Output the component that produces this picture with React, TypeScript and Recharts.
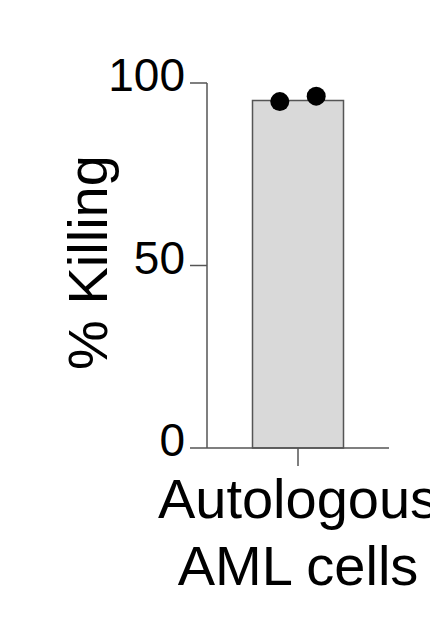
import React from "react";
import {
  ComposedChart,
  Bar,
  Scatter,
  XAxis,
  YAxis,
  Label,
} from "recharts";

// bar = group mean, points = individual replicates
const categories = ["Autologous\nAML cells"];
const meanKilling = [95.2];
const replicateKilling = [94.9, 96.4];
// horizontal jitter of replicates inside the category band (0..1)
const replicateJitter = [0.4, 0.6];
const yTicks = [0, 50, 100];

const barData = categories.map((name, i) => ({ name, value: meanKilling[i] }));
const pointData = replicateKilling.map((v, i) => ({ x: replicateJitter[i], y: v }));

const FONT = "Liberation Sans, Arial, Helvetica, sans-serif";
const LINE = "#555555";

const CategoryTick = (props: any) => {
  const { x, y, payload } = props;
  const lines = String(payload.value).split("\n");
  return (
    <g transform={`translate(${x},${y})`}>
      {lines.map((t, i) => (
        <text
          key={i}
          x={0}
          y={50 + i * 67}
          textAnchor="middle"
          fill="#000"
          fontSize={56}
          fontFamily={FONT}
        >
          {t}
        </text>
      ))}
    </g>
  );
};

const Dot = (props: any) => {
  const { cx, cy } = props;
  return <circle cx={cx} cy={cy} r={9.5} fill="#000" />;
};

const App: React.FC = () => {
  return (
    <div style={{ position: "absolute", left: 0, top: 0, width: 430, height: 622, background: "#fff" }}>
      <ComposedChart
        width={430}
        height={622}
        data={barData}
        margin={{ top: 83, right: 41, left: 0, bottom: 0 }}
        barCategoryGap="25%"
      >
        <XAxis
          xAxisId="cat"
          dataKey="name"
          type="category"
          height={174}
          axisLine={{ stroke: LINE, strokeWidth: 1.5 }}
          tickLine={{ stroke: LINE, strokeWidth: 1.5 }}
          tickSize={18}
          tick={<CategoryTick />}
          interval={0}
        />
        <XAxis xAxisId="num" type="number" dataKey="x" domain={[0, 1]} hide />
        <YAxis
          type="number"
          domain={[0, 100]}
          ticks={yTicks}
          width={207}
          axisLine={{ stroke: LINE, strokeWidth: 1.5 }}
          tickLine={{ stroke: LINE, strokeWidth: 1.5 }}
          tickSize={17}
          tickMargin={5}
          tick={{ fill: "#000", fontSize: 46, fontFamily: FONT, dy: -8 }}
        >
          <Label
            value="% Killing"
            angle={-90}
            position="center"
            dx={-16}
            dy={-3}
            style={{ fill: "#000", fontSize: 56, fontFamily: FONT, textAnchor: "middle" }}
          />
        </YAxis>
        <Bar
          xAxisId="cat"
          dataKey="value"
          fill="#d9d9d9"
          stroke={LINE}
          strokeWidth={1.5}
          isAnimationActive={false}
        />
        <Scatter
          xAxisId="num"
          data={pointData}
          dataKey="y"
          shape={<Dot />}
          isAnimationActive={false}
        />
      </ComposedChart>
    </div>
  );
};

export default App;
